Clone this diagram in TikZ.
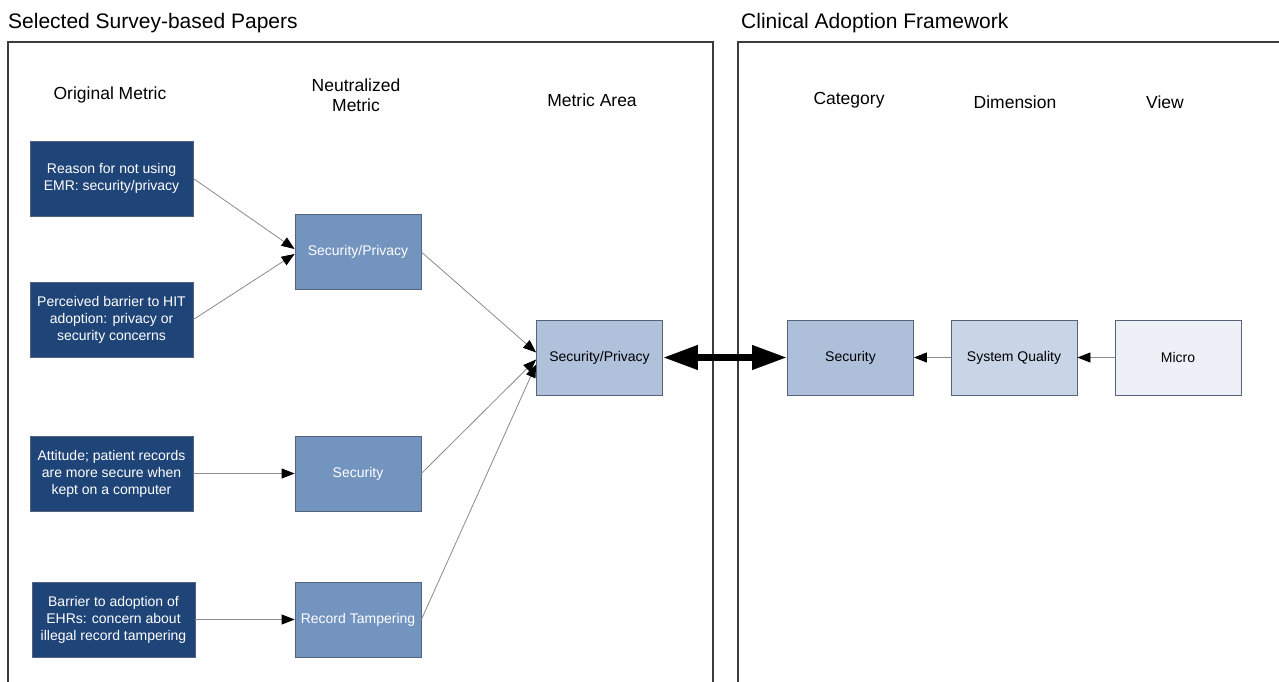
\documentclass[tikz,border=0pt]{standalone}
\usepackage{fontspec}
\setmainfont{Liberation Sans}
\usetikzlibrary{arrows.meta}
\definecolor{cdark}{HTML}{1F4477}
\definecolor{cmid}{HTML}{7394BF}
\definecolor{cmetric}{HTML}{AFC1DB}
\definecolor{ccat}{HTML}{ADBFD9}
\definecolor{cdim}{HTML}{C8D5E6}
\definecolor{cview}{HTML}{EDF0F6}
\definecolor{cborder}{HTML}{55637A}
\definecolor{cline}{HTML}{8A8A8A}
\definecolor{cframe}{HTML}{3C3C3C}
\begin{document}
\begin{tikzpicture}[x=1pt,y=-1pt,
  boxbase/.style={rectangle, draw=cborder, line width=0.8pt, align=center, inner sep=2pt,
    font=\fontsize{14}{17}\selectfont},
  origbox/.style={boxbase, fill=cdark, text=white, minimum width=163pt, minimum height=75pt},
  neutbox/.style={boxbase, fill=cmid, text=white, minimum width=126pt, minimum height=75pt},
  lightbox/.style={boxbase, text=black, minimum width=126pt, minimum height=75pt},
  header/.style={align=center, font=\fontsize{17.5}{19.5}\selectfont, inner sep=0pt},
  titletext/.style={anchor=base west, font=\fontsize{21}{24}\selectfont, inner sep=0pt},
  frameline/.style={draw=cframe, line width=1.5pt},
  thinarrow/.style={draw=cline, line width=0.8pt, -{Triangle[length=13pt,width=10pt,color=black]}},
  bigarrow/.style={draw=black, line width=7pt, {Triangle[length=35pt,width=23pt]}-{Triangle[length=35pt,width=23pt]}}
]
\useasboundingbox (0,0) rectangle (1279,682);

% titles
\node[titletext] (t1) at (8,29) {Selected Survey-based Papers};
\node[titletext] (t2) at (741,29) {Clinical Adoption Framework};

% frames
\draw[frameline] (8,690) -- (8,42) -- (713,42) -- (713,690);
\draw[frameline] (738,690) -- (738,42) -- (1290,42);

% headers
\node[header] (h1) at (110,95) {Original Metric};
\node[header] (h2) at (356,95) {Neutralized\\Metric};
\node[header] (h3) at (592,100) {Metric Area};
\node[header] (h4) at (849,100) {Category};
\node[header] (h5) at (1015,102) {Dimension};
\node[header] (h6) at (1165,102) {View};

% original metrics
\node[origbox] (a1) at (111.5,178.5) {Reason for not using\\EMR: security/privacy};
\node[origbox] (a2) at (111.5,319.5) {Perceived barrier to HIT\\adoption: privacy or\\security concerns};
\node[origbox] (a3) at (111.5,473.5) {Attitude; patient records\\are more secure when\\kept on a computer};
\node[origbox] (a4) at (113.5,619.5) {Barrier to adoption of\\EHRs: concern about\\illegal record tampering};

% neutralized metrics
\node[neutbox] (n1) at (358,252) {Security/Privacy};
\node[neutbox] (n2) at (358,473.5) {Security};
\node[neutbox] (n3) at (358,619.5) {Record Tampering};

% metric area
\node[lightbox, fill=cmetric] (m) at (599.5,357.5) {Security/Privacy};

% framework
\node[lightbox, fill=ccat] (c) at (850.5,357.5) {Security};
\node[lightbox, fill=cdim] (d) at (1014,357.5) {System Quality};
\node[lightbox, fill=cview] (v) at (1178,357.5) {Micro};

% connectors
\draw[thinarrow] (a1.east) -- ([yshift=3pt]n1.west);
\draw[thinarrow] (a2.east) -- ([yshift=-2pt]n1.west);
\draw[thinarrow] (a3.east) -- (n2.west);
\draw[thinarrow] (a4.east) -- (n3.west);
\draw[thinarrow] (n1.east) -- ([yshift=5pt]m.west);
\draw[thinarrow] (n2.east) -- ([yshift=-2pt]m.west);
\draw[thinarrow] (n3.east) -- ([yshift=-7pt]m.west);
\draw[bigarrow] (m.east) -- (c.west);
\draw[thinarrow] (d.west) -- (c.east);
\draw[thinarrow] (v.west) -- (d.east);
\end{tikzpicture}
\end{document}
